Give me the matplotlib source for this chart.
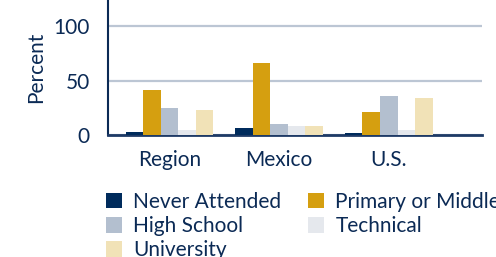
import numpy as np
import matplotlib
matplotlib.use("Agg")
import matplotlib.pyplot as plt

plt.rcParams["font.family"] = ["Lato", "DejaVu Sans"]

groups = ["Region", "Mexico", "U.S."]
levels = ["Never Attended", "Primary or Middle", "High School", "Technical", "University"]
never = [3, 6, 2]
primary = [41, 66, 21]
high_school = [25, 10, 36]
technical = [4.5, 8, 5]
university = [23, 8, 34]
yticks = [0, 50, 100]

series = [never, primary, high_school, technical, university]
colors = ["#002B5C", "#D59F10", "#B3BFCF", "#E5E8ED", "#F1E2B7"]
navy = "#0B2A55"

fig = plt.figure(figsize=(4.96, 2.57), dpi=100)
ax = fig.add_axes([108 / 496, 1 - 135 / 257, (482 - 108) / 496, 135 / 257])

x = np.arange(len(groups))
w = 0.16
handles = []
for i, (vals, c) in enumerate(zip(series, colors)):
    b = ax.bar(x + (i - 2) * w, vals, w, color=c, label=levels[i], zorder=3)
    handles.append(b)

ax.set_xlim(-0.56, 2.85)
ax.set_ylim(0, 124)
ax.set_yticks(yticks)
ax.yaxis.grid(True, color="#BCC6D4", linewidth=1.6, zorder=0)
ax.set_xticks(x)
ax.set_xticklabels(groups)
ax.tick_params(axis="both", length=0, labelsize=15, colors=navy, pad=11)
ax.tick_params(axis="y", pad=13)
for s in ["top", "right"]:
    ax.spines[s].set_visible(False)
ax.spines["left"].set_color(navy)
ax.spines["left"].set_linewidth(1.5)
ax.spines["bottom"].set_color("#1E3A66")
ax.spines["bottom"].set_linewidth(2)
ax.set_ylabel("Percent", fontsize=15, color=navy, labelpad=5)

order = [0, 2, 4, 1, 3]
fig.legend([handles[i] for i in order], [levels[i] for i in order],
           loc="upper left", bbox_to_anchor=(106 / 496, 1 - 192 / 257),
           ncol=2, frameon=False, fontsize=15, handlelength=0.75, handleheight=0.75,
           handletextpad=0.55, columnspacing=1.3, labelspacing=0.2,
           labelcolor=navy, borderpad=0, borderaxespad=0)

fig.savefig("out.png", dpi=100)
